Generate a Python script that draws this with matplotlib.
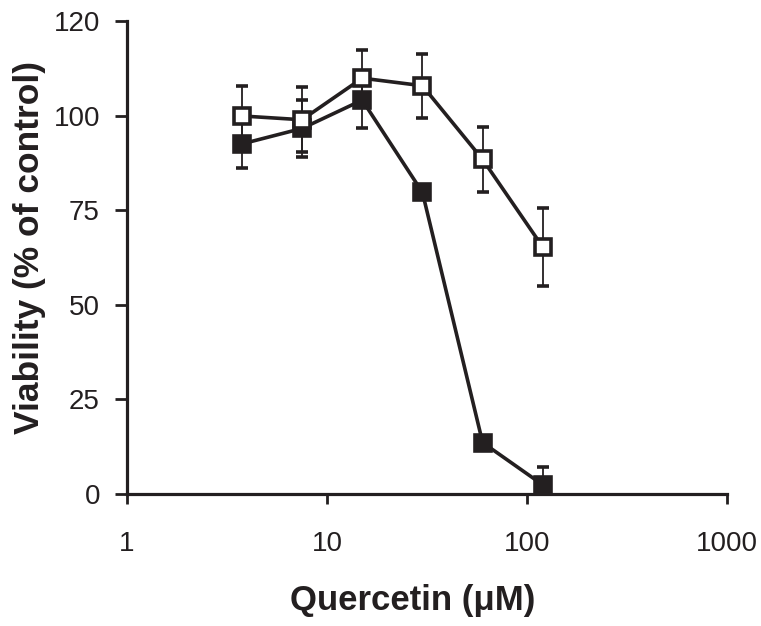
import numpy as np
import matplotlib
matplotlib.use('Agg')
import matplotlib.pyplot as plt

# Quercetin concentrations (uM)
conc = [3.75, 7.5, 15, 30, 60, 120]

# open squares
open_mean = [100, 99, 110, 108, 88.5, 65.3]
open_err = [8, 8.6, 7.5, 8.5, 8.7, 10.3]

# filled squares
filled_mean = [92.6, 96.7, 104.2, 79.8, 13.6, 2.4]
filled_err = [6.4, 7.5, 7.5, 1.5, 1.5, 4.7]

yticks = [0, 25, 50, 75, 100, 125]
ytick_labels = ['0', '25', '50', '75', '100', '120']
xticks = [1, 10, 100, 1000]
xtick_labels = ['1', '10', '100', '1000']

ink = '#231f20'
tick_font = ['Liberation Sans', 'DejaVu Sans']
label_font = ['Liberation Sans', 'DejaVu Sans']

fig = plt.figure(figsize=(7.61, 6.26), dpi=100)
ax = fig.add_axes([0.1669, 0.2109, 0.7884, 0.7548])

common = dict(color=ink, lw=2.6, marker='s', ms=12, mew=2.6, mec=ink,
              ecolor=ink, elinewidth=1.3, capsize=4, capthick=1.8)
eb1 = ax.errorbar(conc, filled_mean, yerr=filled_err, mfc=ink, zorder=3, **common)
eb2 = ax.errorbar(conc, open_mean, yerr=open_err, mfc='white', zorder=4, **common)
eb1[0].set_clip_on(False)
eb2[0].set_clip_on(False)

ax.set_xscale('log')
ax.set_xlim(1, 1000)
ax.set_ylim(0, 125)
ax.set_xticks(xticks)
ax.set_xticklabels(xtick_labels)
ax.minorticks_off()
ax.set_yticks(yticks)
ax.set_yticklabels(ytick_labels)

for lab in ax.get_xticklabels() + ax.get_yticklabels():
    lab.set_family(tick_font)
    lab.set_fontsize(20)
    lab.set_color(ink)

ax.spines['top'].set_visible(False)
ax.spines['right'].set_visible(False)
for s in ['left', 'bottom']:
    ax.spines[s].set_linewidth(2.3)
    ax.spines[s].set_color(ink)

ax.tick_params(axis='x', direction='out', length=7, width=2, color=ink, pad=20)
ax.tick_params(axis='y', direction='out', length=8.5, width=2, color=ink, pad=11)

ax.set_xlabel('Quercetin (μM)', family=label_font, fontsize=25, fontweight='bold',
              color=ink)
ax.xaxis.set_label_coords(0.4766, -0.19)
ax.set_ylabel('Viability (% of control)', family=label_font, fontsize=25.5,
              fontweight='bold', color=ink)
ax.yaxis.set_label_coords(-0.135, 0.521)

fig.savefig('out.png', dpi=100)
